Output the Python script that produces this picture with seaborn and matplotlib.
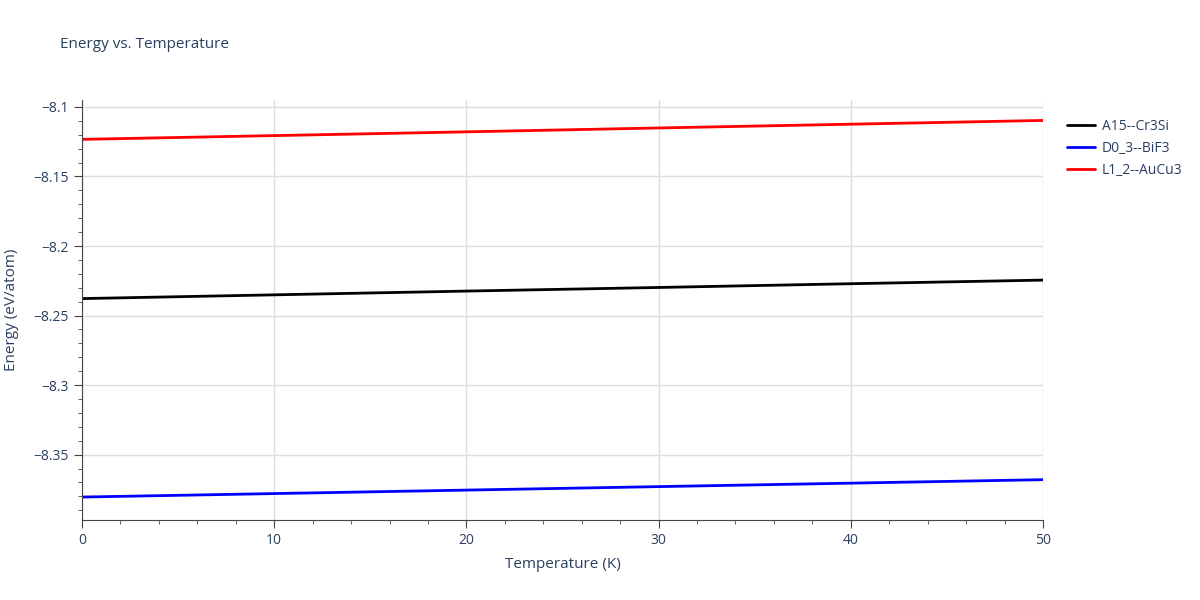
import numpy as np
import pandas as pd
import matplotlib
matplotlib.use("Agg")
import matplotlib.pyplot as plt
import seaborn as sns
from matplotlib.ticker import MultipleLocator

# values (linear over 0-50 K)
temps = [0, 10, 20, 30, 40, 50]
a15 = [-8.2378, -8.2351, -8.2324, -8.2298, -8.2271, -8.2245]
d03 = [-8.3805, -8.3780, -8.3755, -8.3730, -8.3705, -8.3680]
l12 = [-8.1233, -8.1206, -8.1179, -8.1151, -8.1124, -8.1097]
names = ["A15--Cr3Si", "D0_3--BiF3", "L1_2--AuCu3"]
colors = ["#000000", "#0000ff", "#ff0000"]

df = pd.concat([
    pd.DataFrame({"T": temps, "E": vals, "struct": n})
    for n, vals in zip(names, [a15, d03, l12])
])

sns.set_style("white")
plt.rcParams["font.family"] = ["Open Sans", "DejaVu Sans"]

fig = plt.figure(figsize=(12, 6), dpi=100)
ax = fig.add_axes([82 / 1200, 80 / 600, 961 / 1200, 420 / 600])
sns.lineplot(data=df, x="T", y="E", hue="struct", palette=colors,
             linewidth=2, ax=ax)

txt = "#2a3f5f"
ax.set_xlim(0, 50)
ax.set_ylim(-8.397, -8.095)
ax.xaxis.set_major_locator(MultipleLocator(10))
ax.xaxis.set_minor_locator(MultipleLocator(2))
ax.yaxis.set_major_locator(MultipleLocator(0.05))
ax.yaxis.set_minor_locator(MultipleLocator(0.01))
ax.yaxis.set_major_formatter(plt.FuncFormatter(lambda v, p: f"{v:g}".replace("-", "\u2212")))
ax.grid(True, which="major", color="#dddddd", linewidth=1)
ax.tick_params(which="both", direction="out", colors="#444444", labelcolor=txt, labelsize=10)
ax.tick_params(which="major", length=6, left=True, bottom=True)
ax.tick_params(which="minor", length=3, left=True, bottom=True)
for s in ["top", "right"]:
    ax.spines[s].set_visible(False)
for s in ["left", "bottom"]:
    ax.spines[s].set_color("#444444")
ax.set_xlabel("Temperature (K)", color=txt, fontsize=11, labelpad=6)
ax.set_ylabel("Energy (eV/atom)", color=txt, fontsize=11, labelpad=10)

leg = ax.legend(loc="upper left", bbox_to_anchor=(1.012, 0.985), frameon=False,
                fontsize=10, handlelength=2, handletextpad=0.5)
for t in leg.get_texts():
    t.set_color(txt)

fig.text(60 / 1200, 1 - 45 / 600, "Energy vs. Temperature", color=txt,
         fontsize=11, va="center")
fig.savefig("out.png", dpi=100)
